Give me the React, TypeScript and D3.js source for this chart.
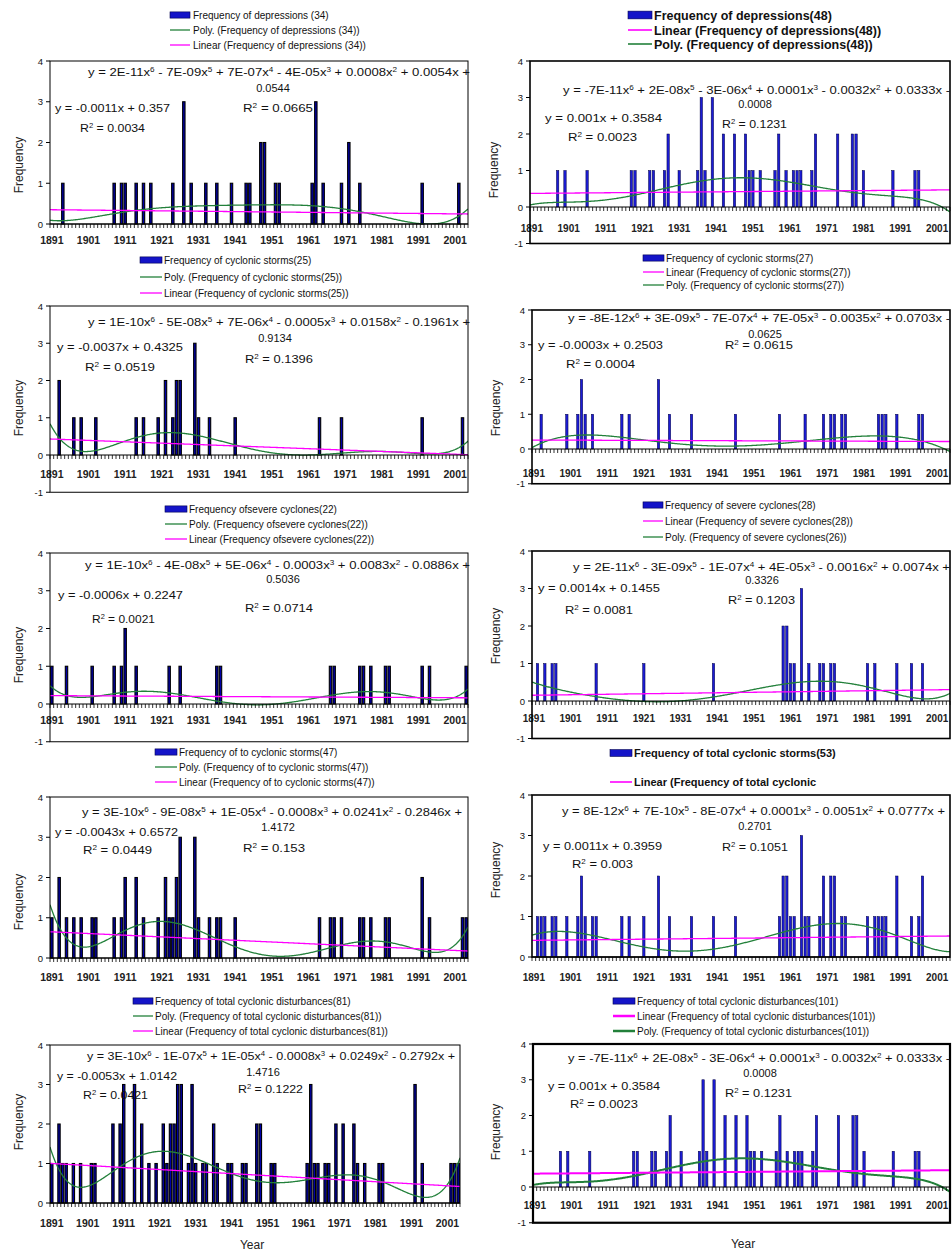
import React from 'react'
import * as d3 from 'd3'

// categories: one per year, 1891..2004
const years = d3.range(1891, 2005)
const tickYears = d3.range(1891, 2002, 10)
const yTicks4 = [0, 1, 2, 3, 4]

// [year, frequency]
const depressionsL: [number, number][] = [[1894,1],[1908,1],[1910,1],[1911,1],[1914,1],[1916,1],[1918,1],[1924,1],[1927,3],[1929,1],[1933,1],[1936,1],[1940,1],[1944,1],[1945,1],[1948,2],[1949,2],[1952,1],[1953,1],[1962,1],[1963,3],[1965,1],[1970,1],[1972,2],[1975,1],[1992,1],[2002,1]]
const cycStormsL: [number, number][] = [[1893,2],[1897,1],[1899,1],[1903,1],[1914,1],[1916,1],[1920,1],[1922,2],[1924,1],[1925,2],[1926,2],[1930,3],[1931,1],[1934,1],[1941,1],[1964,1],[1970,1],[1992,1],[2003,1]]
const severeL: [number, number][] = [[1891,1],[1895,1],[1902,1],[1908,1],[1910,1],[1911,2],[1914,1],[1923,1],[1926,1],[1936,1],[1937,1],[1967,1],[1968,1],[1975,1],[1976,1],[1978,1],[1982,1],[1983,1],[1992,1],[1994,1],[2004,1]]
const totalStormsL: [number, number][] = [[1891,1],[1893,2],[1895,1],[1897,1],[1899,1],[1902,1],[1903,1],[1908,1],[1910,1],[1911,2],[1914,2],[1916,1],[1920,1],[1922,2],[1923,1],[1924,1],[1925,2],[1926,3],[1930,3],[1931,1],[1934,1],[1936,1],[1937,1],[1941,1],[1964,1],[1967,1],[1968,1],[1970,1],[1975,1],[1976,1],[1978,1],[1982,1],[1983,1],[1992,2],[1994,1],[2003,1],[2004,1]]
const totalDistL: [number, number][] = [[1891,1],[1893,2],[1894,1],[1895,1],[1897,1],[1899,1],[1902,1],[1903,1],[1908,2],[1910,2],[1911,3],[1914,3],[1916,2],[1918,1],[1920,1],[1922,2],[1923,1],[1924,2],[1925,2],[1926,3],[1927,3],[1929,1],[1930,3],[1931,1],[1933,1],[1934,1],[1936,2],[1937,1],[1940,1],[1941,1],[1944,1],[1945,1],[1948,2],[1949,2],[1952,1],[1953,1],[1962,1],[1963,3],[1964,1],[1965,1],[1967,1],[1968,1],[1970,2],[1972,2],[1975,2],[1976,1],[1978,1],[1982,1],[1983,1],[1992,3],[1994,1],[2002,1],[2003,1],[2004,1]]

const depressionsR: [number, number][] = [[1898,1],[1900,1],[1906,1],[1918,1],[1919,1],[1923,1],[1924,1],[1927,1],[1928,2],[1931,1],[1936,1],[1937,3],[1938,1],[1940,3],[1943,2],[1946,2],[1949,2],[1950,1],[1951,1],[1953,1],[1957,1],[1958,2],[1960,1],[1962,1],[1963,1],[1964,1],[1967,1],[1968,2],[1974,2],[1978,2],[1979,2],[1981,1],[1989,1],[1995,1],[1996,1]]
const cycStormsR: [number, number][] = [[1893,1],[1900,1],[1903,1],[1904,2],[1905,1],[1907,1],[1915,1],[1917,1],[1925,2],[1928,1],[1934,1],[1946,1],[1958,1],[1965,1],[1970,1],[1972,1],[1973,1],[1975,1],[1976,1],[1985,1],[1986,1],[1987,1],[1990,1],[1996,1],[1997,1]]
const severeR: [number, number][] = [[1892,1],[1894,1],[1896,1],[1897,1],[1908,1],[1921,1],[1940,1],[1959,2],[1960,2],[1961,1],[1962,1],[1964,3],[1966,1],[1969,1],[1970,1],[1972,1],[1973,1],[1982,1],[1984,1],[1990,1],[1994,1],[1997,1]]
const totalStormsR: [number, number][] = [[1892,1],[1893,1],[1894,1],[1896,1],[1897,1],[1900,1],[1903,1],[1904,2],[1905,1],[1907,1],[1908,1],[1915,1],[1917,1],[1921,1],[1925,2],[1928,1],[1934,1],[1940,1],[1946,1],[1958,1],[1959,2],[1960,2],[1961,1],[1962,1],[1964,3],[1965,1],[1966,1],[1969,1],[1970,2],[1972,2],[1973,2],[1975,1],[1976,1],[1982,1],[1984,1],[1985,1],[1986,1],[1987,1],[1990,2],[1994,1],[1996,1],[1997,2]]
const totalDistR: [number, number][] = [[1898,1],[1900,1],[1906,1],[1918,1],[1919,1],[1923,1],[1924,1],[1927,1],[1928,2],[1931,1],[1936,1],[1937,3],[1938,1],[1940,3],[1943,2],[1946,2],[1949,2],[1950,1],[1951,1],[1953,1],[1957,1],[1958,2],[1960,1],[1962,1],[1963,1],[1964,1],[1967,1],[1968,2],[1974,2],[1978,2],[1979,2],[1981,1],[1989,1],[1995,1],[1996,1]]

const GREEN = '#22803a'
const MAGENTA = '#ff00ff'
const FONT = '"Liberation Sans", Arial, sans-serif'

// least squares fit on category index 1..n (x normalised for stability)
function fitPoly(ys: number[], deg: number) {
    const n = ys.length
    const c = (n + 1) / 2
    const s = (n - 1) / 2
    const m = deg + 1
    const A = d3.range(m).map(() => new Array(m + 1).fill(0))
    ys.forEach((yv, k) => {
        const t = (k + 1 - c) / s
        const p = d3.range(m).map((j) => Math.pow(t, j))
        for (let i = 0; i < m; i++) {
            for (let j = 0; j < m; j++) A[i][j] += p[i] * p[j]
            A[i][m] += p[i] * yv
        }
    })
    for (let i = 0; i < m; i++) {
        let piv = i
        for (let r = i + 1; r < m; r++) if (Math.abs(A[r][i]) > Math.abs(A[piv][i])) piv = r
        const tmp = A[i]; A[i] = A[piv]; A[piv] = tmp
        for (let r = 0; r < m; r++) {
            if (r === i) continue
            const f = A[r][i] / A[i][i]
            for (let cc = i; cc <= m; cc++) A[r][cc] -= f * A[i][cc]
        }
    }
    const coef = A.map((row, i) => row[m] / row[i])
    return (x: number) => {
        const t = (x - c) / s
        return coef.reduce((acc, a, j) => acc + a * Math.pow(t, j), 0)
    }
}

// equation text with ^n superscripts
function Eq({ s, x, x2, y, mid, size = 11 }: any) {
    const parts = s.split(/\^(\d)/)
    const spans: any[] = []
    let up = false
    parts.forEach((p: string, i: number) => {
        if (i % 2 === 1) {
            spans.push(<tspan key={i} dy={-4} fontSize={size * 0.62}>{p}</tspan>)
            up = true
        } else if (p) {
            spans.push(<tspan key={i} dy={up ? 4 : 0}>{p}</tspan>)
            up = false
        }
    })
    if (mid !== undefined) {
        return <text x={mid} y={y + 4} textAnchor="middle" fontSize={size} fill="#111">{spans}</text>
    }
    return (
        <text x={x} y={y + 4} fontSize={size} fill="#111" textLength={x2 - x} lengthAdjust="spacingAndGlyphs" style={{ whiteSpace: 'pre' }}>
            {spans}
        </text>
    )
}

function Legend({ L }: any) {
    return (
        <g fontSize={L.size} fontWeight={L.bold ? 'bold' : 'normal'} fill="#111">
            {L.items.map((it: any, i: number) => {
                const yy = L.ys[i]
                const h = L.size * 0.62
                return (
                    <g key={i}>
                        {it.kind === 'bar' ? (
                            <rect x={L.sw[0]} y={yy - h / 2} width={L.sw[1] - L.sw[0]} height={h} fill="#1414c8" stroke="#000050" strokeWidth={0.6} />
                        ) : (
                            <line x1={L.sw[0]} x2={L.sw[1]} y1={yy} y2={yy} stroke={it.kind === 'poly' ? GREEN : MAGENTA} strokeWidth={L.lw || 1.3} />
                        )}
                        <text x={L.tx} y={yy + L.size * 0.36}>{it.label}</text>
                    </g>
                )
            })}
        </g>
    )
}

function Panel({ p }: any) {
    const n = years.length
    const xb = d3.scaleBand<number>().domain(years).range([p.x0, p.x1]).paddingInner(0.35).paddingOuter(0.175)
    const xl = d3.scaleLinear().domain([0.5, n + 0.5]).range([p.x0, p.x1])
    const unit = (p.yZero - p.yTop) / 4
    const yBottom = p.yZero - p.yMin * unit
    const y = d3.scaleLinear().domain([p.yMin, 4]).range([yBottom, p.yTop])
    const lookup = new Map<number, number>(p.data)
    const vals = years.map((yr) => lookup.get(yr) || 0)
    const lin = fitPoly(vals, 1)
    const poly = fitPoly(vals, 6)
    const xs = d3.range(0.5, n + 0.5001, 0.25)
    const path = (f: (x: number) => number) => d3.line<number>().x((v) => xl(v)).y((v) => y(f(v)))(xs) || ''
    const bw = xb.bandwidth()
    const clipId = `clip-${p.id}`
    const right = p.side === 'R'
    const lw = p.lineW || 1.3
    const yTicks = p.yMin < 0 ? [-1, ...yTicks4] : yTicks4

    return (
        <g fontFamily={FONT}>
            <defs>
                <clipPath id={clipId}>
                    <rect x={p.x0} y={p.yTop} width={p.x1 - p.x0} height={yBottom - p.yTop} />
                </clipPath>
            </defs>
            <Legend L={p.legend} />
            {/* bars */}
            <g>
                {p.data.map(([yr, v]: [number, number]) => (
                    <rect key={yr} x={xb(yr)} y={y(v)} width={bw} height={y(0) - y(v)}
                        fill={right ? '#1c1cd4' : '#0000a8'}
                        stroke={right ? '#000040' : '#000'}
                        strokeWidth={right ? 0.5 : 1.1} />
                ))}
            </g>
            {/* trendlines */}
            <g clipPath={`url(#${clipId})`} fill="none">
                <path d={path(poly)} stroke={GREEN} strokeWidth={lw} />
                <path d={path(lin)} stroke={MAGENTA} strokeWidth={lw} />
            </g>
            {/* category axis at zero */}
            <line x1={p.x0} x2={p.x1} y1={y(0)} y2={y(0)} stroke="#000" strokeWidth={1} />
            {d3.range(0, n + 1).map((k) => (
                <line key={k} x1={xl(k + 0.5)} x2={xl(k + 0.5)} y1={y(0)} y2={y(0) + 4} stroke="#000" strokeWidth={0.8} />
            ))}
            {tickYears.map((yr) => (
                <text key={yr} x={(xb(yr) || 0) + bw / 2} y={p.labelY} textAnchor="middle" fontSize={right ? 10 : 10.5} fontWeight="bold" fill="#222">{yr}</text>
            ))}
            {/* value axis */}
            {yTicks.map((t) => (
                <g key={t}>
                    <line x1={p.x0 - 4} x2={p.x0} y1={y(t)} y2={y(t)} stroke="#000" />
                    <text x={p.x0 - 7} y={y(t) + 3.5} textAnchor="end" fontSize={9.5} fill="#111">{t}</text>
                </g>
            ))}
            <rect x={p.x0} y={p.yTop} width={p.x1 - p.x0} height={yBottom - p.yTop} fill="none" stroke="#000" strokeWidth={p.frameW || 1} />
            <text transform={`translate(${p.titleX},${p.titleY}) rotate(-90)`} textAnchor="middle" fontSize={12} fill="#222">Frequency</text>
            {p.eqs.map((e: any, i: number) => <Eq key={i} {...e} />)}
            {p.yearLabel && <text x={p.yearLabel[0]} y={p.yearLabel[1] + 4} textAnchor="middle" fontSize={12} fill="#222">Year</text>}
        </g>
    )
}

const leg = (bar: string, first: 'poly' | 'lin', poly: string, linear: string) =>
    first === 'poly'
        ? [{ kind: 'bar', label: bar }, { kind: 'poly', label: poly }, { kind: 'lin', label: linear }]
        : [{ kind: 'bar', label: bar }, { kind: 'lin', label: linear }, { kind: 'poly', label: poly }]

const panels = [
    {
        id: 'L1', side: 'L', data: depressionsL, x0: 50, x1: 468, yTop: 61, yZero: 224, yMin: 0, labelY: 244, titleX: 23, titleY: 165,
        legend: { sw: [170, 190], tx: 193, ys: [15, 30, 45], size: 10, items: leg('Frequency of depressions (34)', 'poly', 'Poly. (Frequency of depressions (34))', 'Linear (Frequency of depressions (34))') },
        eqs: [
            { s: 'y = 2E-11x^6 - 7E-09x^5 + 7E-07x^4 - 4E-05x^3 + 0.0008x^2 + 0.0054x +', x: 88, x2: 470, y: 72 },
            { s: '0.0544', mid: 273, y: 88 },
            { s: 'R^2 = 0.0665', x: 243, x2: 313, y: 108 },
            { s: 'y = -0.0011x + 0.357', x: 55, x2: 170, y: 108 },
            { s: 'R^2 = 0.0034', x: 80, x2: 145, y: 128 },
        ],
    },
    {
        id: 'R1', side: 'R', data: depressionsR, x0: 530, x1: 950, yTop: 61, yZero: 207, yMin: -1, labelY: 232, titleX: 498, titleY: 170, frameW: 1.6,
        legend: { sw: [628, 652], tx: 654, ys: [15, 30, 44], size: 12.5, bold: true, lw: 1.6, items: leg('Frequency of depressions(48)', 'lin', 'Poly. (Frequency of depressions(48))', 'Linear (Frequency of depressions(48))') },
        eqs: [
            { s: 'y = -7E-11x^6 + 2E-08x^5 - 3E-06x^4 + 0.0001x^3 - 0.0032x^2 + 0.0333x -', x: 563, x2: 950, y: 90 },
            { s: '0.0008', mid: 755, y: 104 },
            { s: 'R^2 = 0.1231', x: 722, x2: 787, y: 124 },
            { s: 'y = 0.001x + 0.3584', x: 545, x2: 662, y: 118 },
            { s: 'R^2 = 0.0023', x: 568, x2: 637, y: 137 },
        ],
    },
    {
        id: 'L2', side: 'L', data: cycStormsL, x0: 50, x1: 468, yTop: 306, yZero: 455, yMin: -1, labelY: 478, titleX: 23, titleY: 408,
        legend: { sw: [140, 162], tx: 164, ys: [260, 277, 293], size: 10, items: leg('Frequency of cyclonic storms(25)', 'poly', 'Poly. (Frequency of cyclonic storms(25))', 'Linear (Frequency of cyclonic storms(25))') },
        eqs: [
            { s: 'y = 1E-10x^6 - 5E-08x^5 + 7E-06x^4 - 0.0005x^3 + 0.0158x^2 - 0.1961x +', x: 88, x2: 470, y: 322 },
            { s: '0.9134', mid: 275, y: 338 },
            { s: 'R^2 = 0.1396', x: 245, x2: 313, y: 359 },
            { s: 'y = -0.0037x + 0.4325', x: 57, x2: 183, y: 347 },
            { s: 'R^2 = 0.0519', x: 85, x2: 155, y: 367 },
        ],
    },
    {
        id: 'R2', side: 'R', data: cycStormsR, x0: 532, x1: 950, yTop: 310, yZero: 449, yMin: -1, labelY: 477, titleX: 500, titleY: 408, frameW: 1.6,
        legend: { sw: [643, 664], tx: 666, ys: [258, 272, 285], size: 10, items: leg('Frequency of cyclonic storms(27)', 'lin', 'Poly. (Frequency of cyclonic storms(27))', 'Linear (Frequency of cyclonic storms(27))') },
        eqs: [
            { s: 'y = -8E-12x^6 + 3E-09x^5 - 7E-07x^4 + 7E-05x^3 - 0.0035x^2 + 0.0703x -', x: 568, x2: 950, y: 318 },
            { s: '0.0625', mid: 765, y: 334 },
            { s: 'R^2 = 0.0615', x: 725, x2: 793, y: 345 },
            { s: 'y = -0.0003x + 0.2503', x: 538, x2: 663, y: 345 },
            { s: 'R^2 = 0.0004', x: 566, x2: 635, y: 364 },
        ],
    },
    {
        id: 'L3', side: 'L', data: severeL, x0: 50, x1: 468, yTop: 553, yZero: 704, yMin: -1, labelY: 724, titleX: 23, titleY: 655,
        legend: { sw: [165, 187], tx: 189, ys: [509, 524, 539], size: 10, items: leg('Frequency ofsevere cyclones(22)', 'poly', 'Poly. (Frequency ofsevere cyclones(22))', 'Linear (Frequency ofsevere cyclones(22))') },
        eqs: [
            { s: 'y = 1E-10x^6 - 4E-08x^5 + 5E-06x^4 - 0.0003x^3 + 0.0083x^2 - 0.0886x +', x: 85, x2: 470, y: 565 },
            { s: '0.5036', mid: 283, y: 579 },
            { s: 'R^2 = 0.0714', x: 245, x2: 313, y: 608 },
            { s: 'y = -0.0006x + 0.2247', x: 58, x2: 183, y: 595 },
            { s: 'R^2 = 0.0021', x: 92, x2: 155, y: 619 },
        ],
    },
    {
        id: 'R3', side: 'R', data: severeR, x0: 532, x1: 950, yTop: 551, yZero: 701, yMin: -1, labelY: 722, titleX: 500, titleY: 636, frameW: 1.6,
        legend: { sw: [643, 663], tx: 665, ys: [505, 521, 537], size: 10, items: leg('Frequency of severe cyclones(28)', 'lin', 'Poly. (Frequency of severe cyclones(26))', 'Linear (Frequency of severe cyclones(28))') },
        eqs: [
            { s: 'y = 2E-11x^6 - 3E-09x^5 - 1E-07x^4 + 4E-05x^3 - 0.0016x^2 + 0.0074x +', x: 573, x2: 950, y: 567 },
            { s: '0.3326', mid: 762, y: 580 },
            { s: 'R^2 = 0.1203', x: 728, x2: 795, y: 600 },
            { s: 'y = 0.0014x + 0.1455', x: 538, x2: 660, y: 588 },
            { s: 'R^2 = 0.0081', x: 565, x2: 633, y: 610 },
        ],
    },
    {
        id: 'L4', side: 'L', data: totalStormsL, x0: 50, x1: 468, yTop: 797, yZero: 958, yMin: 0, labelY: 981, titleX: 23, titleY: 902,
        legend: { sw: [155, 177], tx: 179, ys: [752, 767, 782], size: 10, items: leg('Frequency of to cyclonic storms(47)', 'poly', 'Poly. (Frequency of to cyclonic storms(47))', 'Linear (Frequency of to cyclonic storms(47))') },
        eqs: [
            { s: 'y = 3E-10x^6 - 9E-08x^5 + 1E-05x^4 - 0.0008x^3 + 0.0241x^2 - 0.2846x +', x: 82, x2: 462, y: 812 },
            { s: '1.4172', mid: 278, y: 827 },
            { s: 'R^2 = 0.153', x: 243, x2: 305, y: 848 },
            { s: 'y = -0.0043x + 0.6572', x: 55, x2: 178, y: 832 },
            { s: 'R^2 = 0.0449', x: 83, x2: 152, y: 850 },
        ],
    },
    {
        id: 'R4', side: 'R', data: totalStormsR, x0: 532, x1: 950, yTop: 795, yZero: 957, yMin: 0, labelY: 981, titleX: 500, titleY: 870, frameW: 1.6,
        legend: { sw: [610, 632], tx: 634, ys: [753, 782], size: 11, bold: true, lw: 1.6, items: [{ kind: 'bar', label: 'Frequency of total cyclonic storms(53)' }, { kind: 'lin', label: 'Linear (Frequency of total cyclonic' }] },
        eqs: [
            { s: 'y = 8E-12x^6 + 7E-10x^5 - 8E-07x^4 + 0.0001x^3 - 0.0051x^2 + 0.0777x +', x: 562, x2: 945, y: 811 },
            { s: '0.2701', mid: 755, y: 826 },
            { s: 'R^2 = 0.1051', x: 722, x2: 788, y: 847 },
            { s: 'y = 0.0011x + 0.3959', x: 543, x2: 662, y: 846 },
            { s: 'R^2 = 0.003', x: 572, x2: 633, y: 864 },
        ],
    },
    {
        id: 'L5', side: 'L', data: totalDistL, x0: 50, x1: 460, yTop: 1045, yZero: 1203, yMin: 0, labelY: 1227, titleX: 23, titleY: 1122, yearLabel: [252, 1245],
        legend: { sw: [133, 153], tx: 155, ys: [1001, 1016, 1031], size: 10, items: leg('Frequency of total cyclonic disturbances(81)', 'poly', 'Poly. (Frequency of total cyclonic disturbances(81))', 'Linear (Frequency of total cyclonic disturbances(81))') },
        eqs: [
            { s: 'y = 3E-10x^6 - 1E-07x^5 + 1E-05x^4 - 0.0008x^3 + 0.0249x^2 - 0.2792x +', x: 87, x2: 455, y: 1056 },
            { s: '1.4716', mid: 263, y: 1072 },
            { s: 'R^2 = 0.1222', x: 238, x2: 303, y: 1089 },
            { s: 'y = -0.0053x + 1.0142', x: 57, x2: 177, y: 1076 },
            { s: 'R^2 = 0.0421', x: 83, x2: 148, y: 1095 },
        ],
    },
    {
        id: 'R5', side: 'R', data: totalDistR, x0: 533, x1: 950, yTop: 1044, yZero: 1187, yMin: -1, labelY: 1209, titleX: 500, titleY: 1132, frameW: 2.2, lineW: 2, yearLabel: [743, 1244],
        legend: { sw: [613, 635], tx: 637, ys: [1001, 1016, 1031], size: 10, lw: 2.5, items: leg('Frequency of total cyclonic disturbances(101)', 'lin', 'Poly. (Frequency of total cyclonic disturbances(101))', 'Linear (Frequency of total cyclonic disturbances(101))') },
        eqs: [
            { s: 'y = -7E-11x^6 + 2E-08x^5 - 3E-06x^4 + 0.0001x^3 - 0.0032x^2 + 0.0333x -', x: 568, x2: 950, y: 1058 },
            { s: '0.0008', mid: 760, y: 1073 },
            { s: 'R^2 = 0.1231', x: 725, x2: 792, y: 1093 },
            { s: 'y = 0.001x + 0.3584', x: 548, x2: 660, y: 1086 },
            { s: 'R^2 = 0.0023', x: 570, x2: 638, y: 1104 },
        ],
    },
]

const App: React.FC = () => {
    return (
        <div style={{ position: 'absolute', left: 0, top: 0, width: 952, height: 1252, background: '#fff' }}>
            <svg width={952} height={1252} viewBox="0 0 952 1252" style={{ display: 'block' }}>
                <rect width={952} height={1252} fill="#fff" />
                {panels.map((p) => <Panel key={p.id} p={p} />)}
            </svg>
        </div>
    )
}

export default App
